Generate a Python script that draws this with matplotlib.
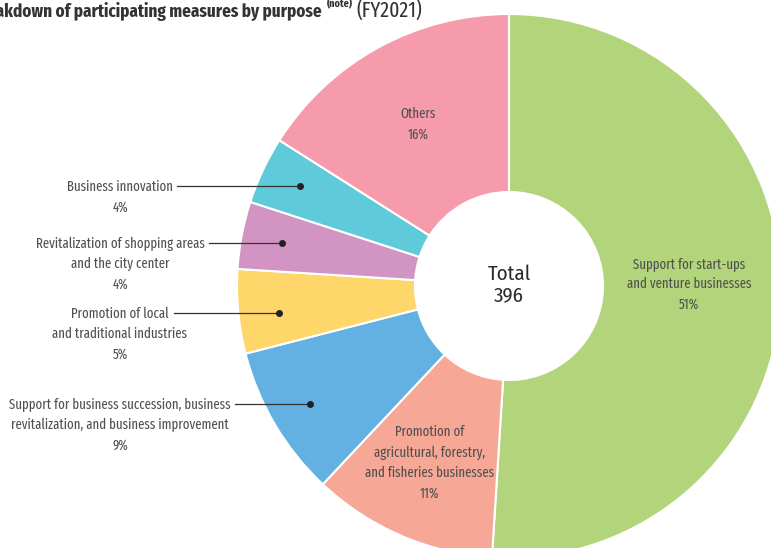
import numpy as np
import matplotlib.pyplot as plt

# purposes, clockwise from 12 o'clock
purposes = [
    "Support for start-ups\nand venture businesses",
    "Promotion of\nagricultural, forestry,\nand fisheries businesses",
    "Support for business succession, business\nrevitalization, and business improvement",
    "Promotion of local\nand traditional industries",
    "Revitalization of shopping areas\nand the city center",
    "Business innovation",
    "Others",
]
shares = [51, 11, 9, 5, 4, 4, 16]
total = 396
colors = ["#b2d57b", "#f6a795", "#63b1e2", "#fed66a", "#d294c3", "#5fcad9", "#f59bac"]

plt.rcParams["font.family"] = ["Fira Sans Extra Condensed", "DejaVu Sans"]

W, H = 771, 548
fig = plt.figure(figsize=(W / 100, H / 100), dpi=100)
ax = fig.add_axes([0, 0, 1, 1])

cx, cy, r = 509, H - 286, 272
wedges, _ = ax.pie(shares, colors=colors, startangle=90, counterclock=False,
                   center=(cx, cy), radius=r, frame=True,
                   wedgeprops=dict(width=178, edgecolor="white", linewidth=1.5))
ax.set_xlim(0, W)
ax.set_ylim(0, H)
ax.set_aspect("equal")
ax.axis("off")

txt = "#505050"
fs = 10
lsp = 1.55

ax.text(cx, cy + 1, f"Total\n{total}", ha="center", va="center", fontsize=15,
        color="#2a2a2a", linespacing=1.1, family=["Fira Sans Condensed", "DejaVu Sans"])

def pct(i):
    return f"{shares[i]}%"

# labels inside the wedges
ax.text(689, H - 284, f"{purposes[0]}\n{pct(0)}", ha="center", va="center",
        fontsize=fs, color=txt, linespacing=lsp)
ax.text(430, H - 463, f"{purposes[1]}\n{pct(1)}", ha="center", va="center",
        fontsize=fs, color=txt, linespacing=lsp)
ax.text(418, H - 124, f"{purposes[6]}\n{pct(6)}", ha="center", va="center",
        fontsize=fs, color=txt, linespacing=lsp)

# outside labels with leader lines: (index, text centre y, line y, line start x)
leaders = [(2, 425, 404, 235), (3, 334, 313, 174), (4, 264, 243, 209), (5, 197, 186, 177)]
for i, ty, ly, lx in leaders:
    w = wedges[i]
    mid = np.deg2rad((w.theta1 + w.theta2) / 2)
    dx = cx + 0.85 * r * np.cos(mid)
    ax.text(120, H - ty, f"{purposes[i]}\n{pct(i)}", ha="center", va="center",
            fontsize=fs, color=txt, linespacing=lsp)
    ax.plot([lx, dx], [H - ly, H - ly], color="#333333", lw=0.9)
    ax.plot(dx, H - ly, "o", color="#222222", ms=4)

# title, clipped at the left edge
ax.text(422, H - 11, "(FY2021)", ha="right", va="center", fontsize=15.5, color="#333333")
ax.text(353, H - 4, "(note)", ha="right", va="center", fontsize=8,
        fontweight="bold", color="#333333")
ax.text(322, H - 11, "Breakdown of participating measures by purpose", ha="right",
        va="center", fontsize=13.3, fontweight="bold", color="#333333")

fig.savefig("out.png", dpi=100)
